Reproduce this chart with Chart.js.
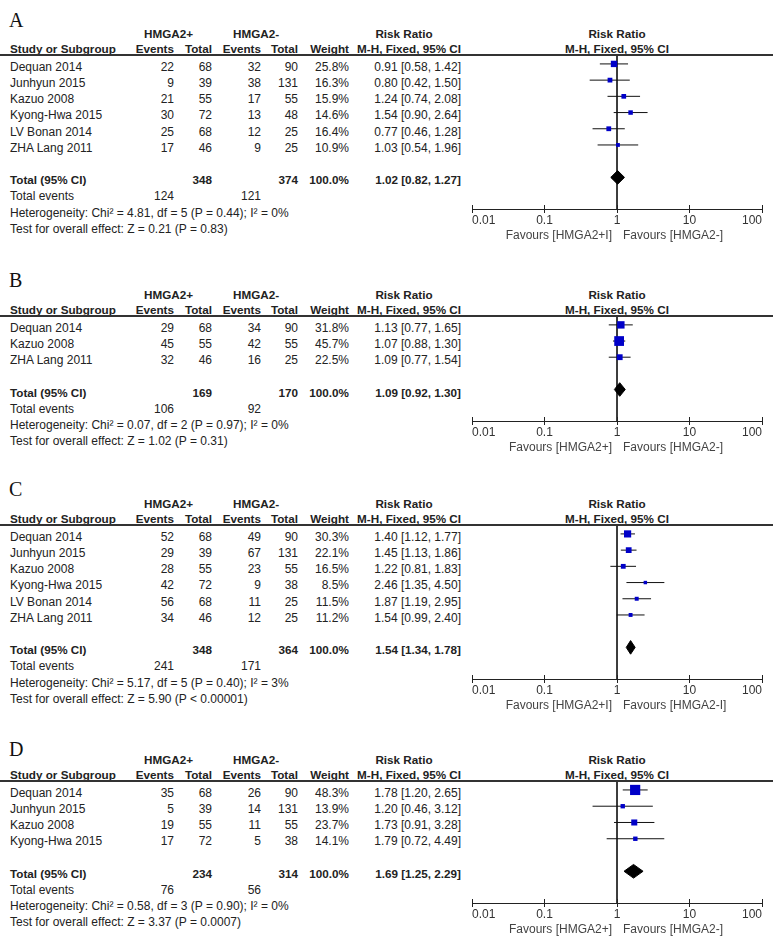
<!DOCTYPE html>
<html><head><meta charset="utf-8">
<script src="https://cdn.jsdelivr.net/npm/chart.js@4.4.1/dist/chart.umd.min.js"></script>
<style>
html,body{margin:0;padding:0;background:#fff;}
#page{position:relative;width:773px;height:940px;overflow:hidden;font-family:"Liberation Sans",Arial,sans-serif;font-size:12px;color:#222;}
.t{position:absolute;white-space:nowrap;line-height:16px;height:16px;}
.b{font-weight:bold;font-size:11.7px;}
.rule{position:absolute;left:0;width:773px;height:2px;background:#333;}
.letter{position:absolute;font-family:"Liberation Serif","Times New Roman",serif;font-size:20px;line-height:20px;color:#111;}
canvas{position:absolute;}
</style></head><body><div id="page"></div>
<script>
// ---------------- DATA ----------------
const panelLetters = ['A', 'B', 'C', 'D'];
const tickValues = [0.01, 0.1, 1, 10, 100];
const tickLabels = ['0.01', '0.1', '1', '10', '100'];

// Panel A
const studiesA = ['Dequan 2014', 'Junhyun 2015', 'Kazuo 2008', 'Kyong-Hwa 2015', 'LV Bonan 2014', 'ZHA Lang 2011'];
const eventsPosA = [22, 9, 21, 30, 25, 17];
const totalPosA = [68, 39, 55, 72, 68, 46];
const eventsNegA = [32, 38, 17, 13, 12, 9];
const totalNegA = [90, 131, 55, 48, 25, 25];
const weightA = [25.8, 16.3, 15.9, 14.6, 16.4, 10.9];
const rrA = [0.91, 0.80, 1.24, 1.54, 0.77, 1.03];
const lowA = [0.58, 0.42, 0.74, 0.90, 0.46, 0.54];
const highA = [1.42, 1.50, 2.08, 2.64, 1.28, 1.96];
const pooledA = [1.02, 0.82, 1.27];
const totalsA = [348, 374];
const totalEventsA = [124, 121];
const hetA = ['4.81', '5', '0.44', '0'];
const overallA = ['0.21', 'P = 0.83'];
const favoursA = ['Favours [HMGA2+I]', 'Favours [HMGA2-]'];

// Panel B
const studiesB = ['Dequan 2014', 'Kazuo 2008', 'ZHA Lang 2011'];
const eventsPosB = [29, 45, 32];
const totalPosB = [68, 55, 46];
const eventsNegB = [34, 42, 16];
const totalNegB = [90, 55, 25];
const weightB = [31.8, 45.7, 22.5];
const rrB = [1.13, 1.07, 1.09];
const lowB = [0.77, 0.88, 0.77];
const highB = [1.65, 1.30, 1.54];
const pooledB = [1.09, 0.92, 1.30];
const totalsB = [169, 170];
const totalEventsB = [106, 92];
const hetB = ['0.07', '2', '0.97', '0'];
const overallB = ['1.02', 'P = 0.31'];
const favoursB = ['Favours [HMGA2+]', 'Favours [HMGA2-]'];

// Panel C
const studiesC = ['Dequan 2014', 'Junhyun 2015', 'Kazuo 2008', 'Kyong-Hwa 2015', 'LV Bonan 2014', 'ZHA Lang 2011'];
const eventsPosC = [52, 29, 28, 42, 56, 34];
const totalPosC = [68, 39, 55, 72, 68, 46];
const eventsNegC = [49, 67, 23, 9, 11, 12];
const totalNegC = [90, 131, 55, 38, 25, 25];
const weightC = [30.3, 22.1, 16.5, 8.5, 11.5, 11.2];
const rrC = [1.40, 1.45, 1.22, 2.46, 1.87, 1.54];
const lowC = [1.12, 1.13, 0.81, 1.35, 1.19, 0.99];
const highC = [1.77, 1.86, 1.83, 4.50, 2.95, 2.40];
const pooledC = [1.54, 1.34, 1.78];
const totalsC = [348, 364];
const totalEventsC = [241, 171];
const hetC = ['5.17', '5', '0.40', '3'];
const overallC = ['5.90', 'P < 0.00001'];
const favoursC = ['Favours [HMGA2+I]', 'Favours [HMGA2-I]'];

// Panel D
const studiesD = ['Dequan 2014', 'Junhyun 2015', 'Kazuo 2008', 'Kyong-Hwa 2015'];
const eventsPosD = [35, 5, 19, 17];
const totalPosD = [68, 39, 55, 72];
const eventsNegD = [26, 14, 11, 5];
const totalNegD = [90, 131, 55, 38];
const weightD = [48.3, 13.9, 23.7, 14.1];
const rrD = [1.78, 1.20, 1.73, 1.79];
const lowD = [1.20, 0.46, 0.91, 0.72];
const highD = [2.65, 3.12, 3.28, 4.49];
const pooledD = [1.69, 1.25, 2.29];
const totalsD = [234, 314];
const totalEventsD = [76, 56];
const hetD = ['0.58', '3', '0.90', '0'];
const overallD = ['3.37', 'P = 0.0007'];
const favoursD = ['Favours [HMGA2+]', 'Favours [HMGA2-]'];

// ---------------- LAYOUT ----------------
const ruleY = [55, 316, 525, 781];
const letterCapTop = [13, 273, 482, 742];
const pitch = 16.2;
const COL = {study: 10, ev1: 174, tot1: 212, ev2: 261, tot2: 298, w: 349, ci: 461,
             grp1: 144, grp2: 233, rrL: 404, rrR: 617};

const panels = [
  {studies: studiesA, ep: eventsPosA, tp: totalPosA, en: eventsNegA, tn: totalNegA, w: weightA, rr: rrA, lo: lowA, hi: highA, pooled: pooledA, totals: totalsA, te: totalEventsA, het: hetA, ov: overallA, fav: favoursA},
  {studies: studiesB, ep: eventsPosB, tp: totalPosB, en: eventsNegB, tn: totalNegB, w: weightB, rr: rrB, lo: lowB, hi: highB, pooled: pooledB, totals: totalsB, te: totalEventsB, het: hetB, ov: overallB, fav: favoursB},
  {studies: studiesC, ep: eventsPosC, tp: totalPosC, en: eventsNegC, tn: totalNegC, w: weightC, rr: rrC, lo: lowC, hi: highC, pooled: pooledC, totals: totalsC, te: totalEventsC, het: hetC, ov: overallC, fav: favoursC},
  {studies: studiesD, ep: eventsPosD, tp: totalPosD, en: eventsNegD, tn: totalNegD, w: weightD, rr: rrD, lo: lowD, hi: highD, pooled: pooledD, totals: totalsD, te: totalEventsD, het: hetD, ov: overallD, fav: favoursD}
];

const page = document.getElementById('page');
function txt(s, x, yc, align, bold) {
  const d = document.createElement('div');
  d.className = 't' + (bold ? ' b' : '');
  d.textContent = s;
  d.style.top = (yc - 8) + 'px';
  if (align === 'right') { d.style.left = (x - 300) + 'px'; d.style.width = '300px'; d.style.textAlign = 'right'; }
  else if (align === 'center') { d.style.left = (x - 150) + 'px'; d.style.width = '300px'; d.style.textAlign = 'center'; }
  else d.style.left = x + 'px';
  page.appendChild(d);
}
const ci = (r, l, h) => r.toFixed(2) + ' [' + l.toFixed(2) + ', ' + h.toFixed(2) + ']';

const forestExtras = {
  id: 'forestExtras',
  afterDraw(chart, args, opts) {
    const {ctx, chartArea, scales} = chart;
    const x = scales.x;
    const yb = chartArea.bottom;
    ctx.save();
    ctx.strokeStyle = '#222';
    ctx.lineWidth = 1;
    x.ticks.forEach(t => {
      const px = Math.round(x.getPixelForValue(t.value) - 0.5) + 0.5;
      ctx.beginPath(); ctx.moveTo(px, yb - 4); ctx.lineTo(px, yb); ctx.stroke();
    });
    ctx.font = '12px "Liberation Sans", Arial, sans-serif';
    ctx.fillStyle = '#444';
    ctx.textBaseline = 'middle';
    const p1 = x.getPixelForValue(1);
    ctx.textAlign = 'right'; ctx.fillText(opts.left, p1 - 5, yb + 27);
    ctx.textAlign = 'left'; ctx.fillText(opts.right, p1 + 6, yb + 27);
    ctx.restore();
  }
};

panels.forEach((p, k) => {
  const R = ruleY[k];
  const n = p.studies.length;
  const totalIdx = n + 1;
  const rowY = i => R + (0.73 + i) * pitch;

  const L = document.createElement('div');
  L.className = 'letter';
  L.textContent = panelLetters[k];
  L.style.left = '9px';
  L.style.top = (letterCapTop[k] - 3.5) + 'px';
  page.appendChild(L);

  const h1 = R - 21.5, h2 = R - 6.5;
  txt('HMGA2+', COL.grp1, h1, 'left', true);
  txt('HMGA2-', COL.grp2, h1, 'left', true);
  txt('Risk Ratio', COL.rrL, h1, 'center', true);
  txt('Risk Ratio', COL.rrR, h1, 'center', true);
  txt('Study or Subgroup', COL.study, h2, 'left', true);
  txt('Events', COL.ev1, h2, 'right', true);
  txt('Total', COL.tot1, h2, 'right', true);
  txt('Events', COL.ev2, h2, 'right', true);
  txt('Total', COL.tot2, h2, 'right', true);
  txt('Weight', COL.w, h2, 'right', true);
  txt('M-H, Fixed, 95% CI', COL.ci, h2, 'right', true);
  txt('M-H, Fixed, 95% CI', COL.rrR, h2, 'center', true);

  p.studies.forEach((s, i) => {
    const y = rowY(i);
    txt(s, COL.study, y, 'left');
    txt(String(p.ep[i]), COL.ev1, y, 'right');
    txt(String(p.tp[i]), COL.tot1, y, 'right');
    txt(String(p.en[i]), COL.ev2, y, 'right');
    txt(String(p.tn[i]), COL.tot2, y, 'right');
    txt(p.w[i].toFixed(1) + '%', COL.w, y, 'right');
    txt(ci(p.rr[i], p.lo[i], p.hi[i]), COL.ci, y, 'right');
  });
  let y = rowY(totalIdx);
  txt('Total (95% CI)', COL.study, y, 'left', true);
  txt(String(p.totals[0]), COL.tot1, y, 'right', true);
  txt(String(p.totals[1]), COL.tot2, y, 'right', true);
  txt('100.0%', COL.w, y, 'right', true);
  txt(ci(p.pooled[0], p.pooled[1], p.pooled[2]), COL.ci, y, 'right', true);
  y = rowY(totalIdx + 1);
  txt('Total events', COL.study, y, 'left');
  txt(String(p.te[0]), COL.ev1, y, 'right');
  txt(String(p.te[1]), COL.ev2, y, 'right');
  txt('Heterogeneity: Chi\u00b2 = ' + p.het[0] + ', df = ' + p.het[1] + ' (P = ' + p.het[2] + '); I\u00b2 = ' + p.het[3] + '%', COL.study, rowY(totalIdx + 2), 'left');
  txt('Test for overall effect: Z = ' + p.ov[0] + ' (' + p.ov[1] + ')', COL.study, rowY(totalIdx + 3), 'left');

  const yMin = -0.55, yMax = totalIdx + 1.95;
  const areaH = Math.round((yMax - yMin) * pitch);
  const W = 310, H = areaH + 40;
  const c = document.createElement('canvas');
  c.width = W; c.height = H;
  c.style.left = '462px'; c.style.top = R + 'px';
  c.style.width = W + 'px'; c.style.height = H + 'px';
  page.appendChild(c);

  const [est, plo, phi] = p.pooled;
  const hd = 0.42;
  const datasets = [];
  datasets.push({data: p.rr.map((v, i) => ({x: v, y: i})), pointStyle: 'rect',
    pointRadius: p.w.map(w => (2 + 0.17 * w) / Math.SQRT2), backgroundColor: '#0000c8', borderWidth: 0, showLine: false});
  datasets.push({data: [{x: plo, y: totalIdx}, {x: est, y: totalIdx - hd}, {x: phi, y: totalIdx}],
    showLine: true, fill: '+1', backgroundColor: '#000', borderColor: '#000', borderWidth: 1, pointRadius: 0});
  datasets.push({data: [{x: plo, y: totalIdx}, {x: est, y: totalIdx + hd}, {x: phi, y: totalIdx}],
    showLine: true, fill: false, backgroundColor: '#000', borderColor: '#000', borderWidth: 1, pointRadius: 0});
  p.lo.forEach((l, i) => datasets.push({data: [{x: l, y: i}, {x: p.hi[i], y: i}],
    showLine: true, fill: false, borderColor: '#111', borderWidth: 1, pointRadius: 0}));
  datasets.push({data: [{x: 1, y: yMin}, {x: 1, y: yMax}], showLine: true, fill: false,
    borderColor: '#222', borderWidth: 1, pointRadius: 0});

  new Chart(c, {
    type: 'scatter',
    data: {datasets},
    options: {
      responsive: false, animation: false, devicePixelRatio: 1, events: [],
      layout: {autoPadding: false, padding: {left: 10, right: 10, top: 0, bottom: 20}},
      plugins: {legend: {display: false}, tooltip: {enabled: false},
        forestExtras: {left: p.fav[0], right: p.fav[1]}},
      scales: {
        x: {type: 'logarithmic', min: 0.01, max: 100, position: 'bottom',
          afterBuildTicks: s => { s.ticks = tickValues.map(v => ({value: v})); },
          afterFit: s => { s.height = 20; },
          grid: {display: true, drawOnChartArea: false, drawTicks: true, tickLength: 4, color: '#222', lineWidth: 1},
          border: {display: true, color: '#222', width: 1},
          ticks: {autoSkip: false, maxRotation: 0, minRotation: 0, align: 'inner', padding: 1, color: '#333',
            font: {family: '"Liberation Sans", Arial, sans-serif', size: 12, lineHeight: 1.15},
            callback: (v, i) => tickLabels[i]}
        },
        y: {type: 'linear', display: false, reverse: true, min: yMin, max: yMax}
      }
    },
    plugins: [forestExtras]
  });

  const rule = document.createElement('div');
  rule.className = 'rule';
  rule.style.top = (R - 1) + 'px';
  page.appendChild(rule);
});
</script></body></html>
